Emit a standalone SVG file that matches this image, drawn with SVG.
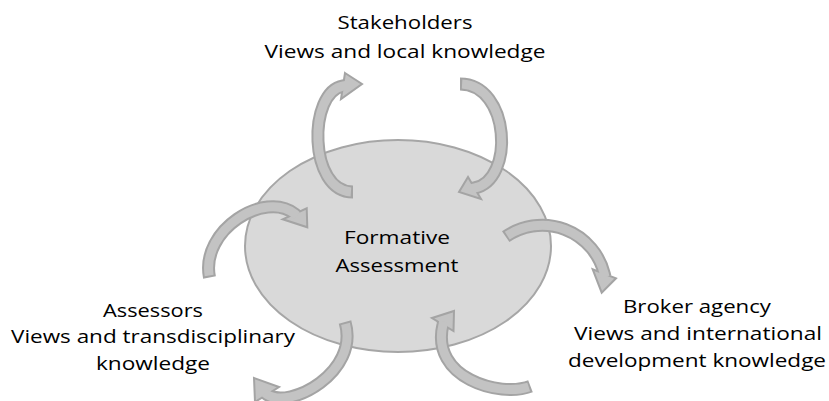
<svg xmlns="http://www.w3.org/2000/svg" width="829" height="401" viewBox="0 0 829 401">
<style>
.bg{fill:#ffffff}
.node-shape{fill:#d9d9d9;stroke:#a6a6a6;stroke-width:2}
.lbl{font-family:"Open Sans","Noto Sans","Liberation Sans",sans-serif;font-size:18.5px;fill:#000000;text-anchor:middle}
.so{fill:none;stroke:#a4a4a4;stroke-width:13;stroke-linecap:butt}
.si{fill:none;stroke:#c3c3c3;stroke-width:9;stroke-linecap:butt;stroke-dasharray:0 2 2000}
.hd{fill:#c3c3c3;stroke:#a4a4a4;stroke-width:2;stroke-linejoin:miter}
</style>
<rect class="bg" x="0" y="0" width="829" height="401"/>
<g id="node-formative">
<ellipse class="node-shape" cx="398" cy="246" rx="153" ry="106"/>
<text class="lbl" x="397" y="244" textLength="106" lengthAdjust="spacingAndGlyphs">Formative</text>
<text class="lbl" x="397" y="272" textLength="123" lengthAdjust="spacingAndGlyphs">Assessment</text>
</g>
<g id="node-stakeholders">
<text class="lbl" x="405" y="29" textLength="135" lengthAdjust="spacingAndGlyphs">Stakeholders</text>
<text class="lbl" x="405" y="58" textLength="281" lengthAdjust="spacingAndGlyphs">Views and local knowledge</text>
</g>
<g id="node-assessors">
<text class="lbl" x="153" y="317" textLength="100" lengthAdjust="spacingAndGlyphs">Assessors</text>
<text class="lbl" x="153" y="343" textLength="284" lengthAdjust="spacingAndGlyphs">Views and transdisciplinary</text>
<text class="lbl" x="153" y="370" textLength="114" lengthAdjust="spacingAndGlyphs">knowledge</text>
</g>
<g id="node-broker">
<text class="lbl" x="697" y="313" textLength="148" lengthAdjust="spacingAndGlyphs">Broker agency</text>
<text class="lbl" x="698" y="340" textLength="248" lengthAdjust="spacingAndGlyphs">Views and international</text>
<text class="lbl" x="697" y="367" textLength="258" lengthAdjust="spacingAndGlyphs">development knowledge</text>
</g>
<g id="connectors">
<g id="arrow-to-stakeholders">
<path class="so" d="M353,192 C308,192 308,92 343,86 l3,-0.5"/>
<polygon class="hd" points="345,73 362,84 341,99"/>
<path class="si" d="M353,192 C308,192 308,92 343,86 l3,-0.5"/>
</g>
<g id="arrow-from-stakeholders">
<path class="so" d="M460,84 C510,84 515,180 474.5,188 l-3,0.6"/>
<polygon class="hd" points="468,177 459,192 481,199"/>
<path class="si" d="M460,84 C510,84 515,180 474.5,188 l-3,0.6"/>
</g>
<g id="arrow-from-assessors">
<path class="so" d="M209.5,277.5 C200,230 265,190 294.7,213.8 l2.3,1.9"/>
<polygon class="hd" points="306.7,208.3 307.3,227.3 282.7,219.3"/>
<path class="si" d="M209.5,277.5 C200,230 265,190 294.7,213.8 l2.3,1.9"/>
</g>
<g id="arrow-to-broker">
<path class="so" d="M505.7,236.7 A64,64 0 0 1 604.3,273.8 l0.7,2.9"/>
<polygon class="hd" points="592.7,269.3 601.7,292.7 616,278.3"/>
<path class="si" d="M505.7,236.7 A64,64 0 0 1 604.3,273.8 l0.7,2.9"/>
</g>
<g id="arrow-to-assessors">
<path class="so" d="M345,322 C360,372 290,410 267,394.5 l-2.4,-1.8"/>
<polygon class="hd" points="279,387 254,378 255,402"/>
<path class="si" d="M345,322 C360,372 290,410 267,394.5 l-2.4,-1.8"/>
</g>
<g id="arrow-from-broker">
<path class="so" d="M530.5,386.3 C500,398 430,378 443,324.5 l0.6,-2.9"/>
<polygon class="hd" points="432,318 454,311 453.5,331"/>
<path class="si" d="M530.5,386.3 C500,398 430,378 443,324.5 l0.6,-2.9"/>
</g>
</g>
</svg>
